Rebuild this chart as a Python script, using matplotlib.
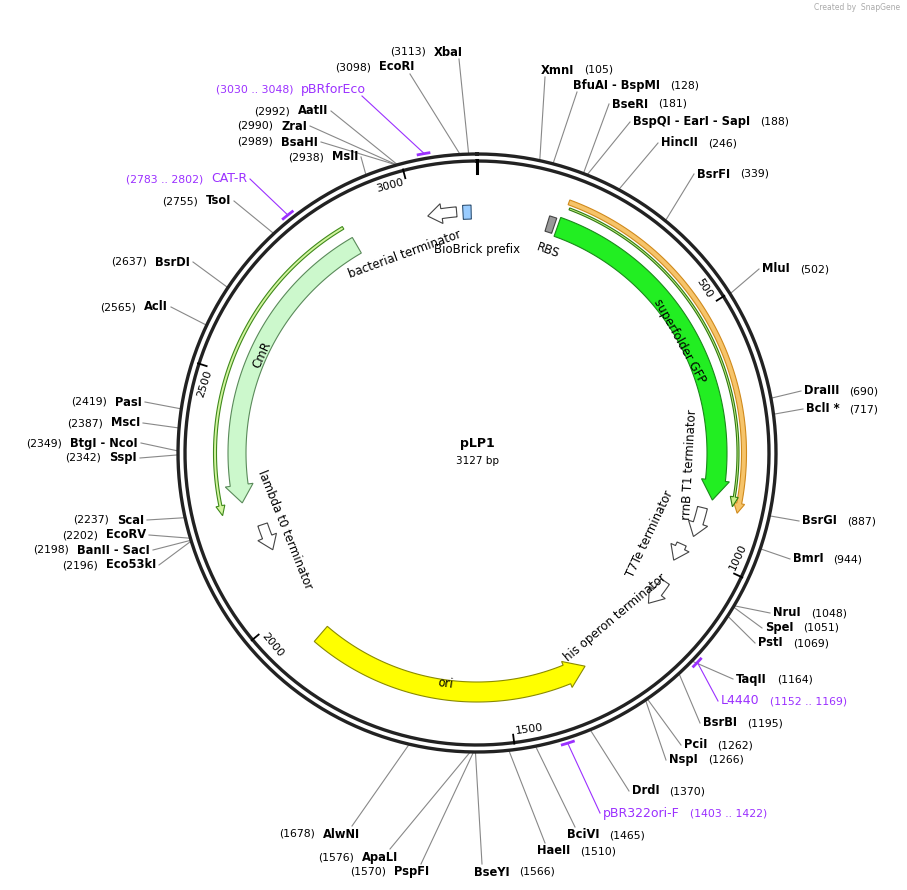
import numpy as np
import matplotlib
matplotlib.use("Agg")
import matplotlib.pyplot as plt
from matplotlib.patches import Polygon

TOTAL = 3127
NAME = "pLP1"

# enzyme sites: name, position, side, label x, label y
enz_names = ["XmnI","BfuAI - BspMI","BseRI","BspQI - EarI - SapI","HincII","BsrFI","MluI",
             "DraIII","BclI *","BsrGI","BmrI","NruI","SpeI","PstI","TaqII","BsrBI","PciI","NspI",
             "DrdI","BciVI","HaeII","BseYI",
             "PspFI","ApaLI","AlwNI","Eco53kI","BanII - SacI","EcoRV","ScaI","SspI","BtgI - NcoI",
             "MscI","PasI","AclI","BsrDI","TsoI","MslI","BsaHI","ZraI","AatII","EcoRI","XbaI"]
enz_pos = [105,128,181,188,246,339,502,690,717,887,944,1048,1051,1069,1164,1195,1262,1266,
           1370,1465,1510,1566,
           1570,1576,1678,2196,2198,2202,2237,2342,2349,2387,2419,2565,2637,2755,2938,2989,2990,2992,3098,3113]
enz_side = ["R"]*22 + ["L"]*20
enz_lx = [541,573,612,633,661,697,762,804,806,802,793,773,765,758,736,703,684,669,632,567,537,474,
          429,398,360,156,150,146,144,137,138,140,142,168,190,231,358,318,307,328,414,463]
enz_ly = [70,85,104,122,143,174,269,391,409,521,559,613,628,643,679,723,745,760,791,835,851,872,
          872,857,834,565,550,535,520,458,443,423,402,307,262,201,157,142,126,111,67,52]

# primers: name, start, end, side, label x, label y
pr_names = ["pBRforEco","CAT-R","L4440","pBR322ori-F"]
pr_start = [3030,2783,1152,1403]
pr_end = [3048,2802,1169,1422]
pr_side = ["L","L","R","R"]
pr_lx = [366,247,721,603]
pr_ly = [89,179,701,813]

cx, cy = 477, 453
R_OUT, R_IN = 299, 292

fig = plt.figure(figsize=(9.07, 8.90), dpi=100)
ax = fig.add_axes([0, 0, 1, 1])
ax.set_xlim(0, 907); ax.set_ylim(890, 0); ax.axis("off")
renderer = fig.canvas.get_renderer()

def ang(bp):
    return np.deg2rad(bp / TOTAL * 360.0)

def pt(r, bp):
    t = ang(bp)
    return cx + r*np.sin(t), cy - r*np.cos(t)

def rot_for(bp):
    d = (bp / TOTAL * 360.0) % 360
    r = -d
    if 90 < d < 270:
        r += 180
    return r

def arc_pts(r, b1, b2, n=80):
    bs = np.linspace(b1, b2, n)
    return [pt(r, b) for b in bs]

def arc_arrow(b1, b2, r, w, fc, ec, forward=True, head=14, hw=4, lw=1.0, z=3):
    hb = head / (2*np.pi*r) * TOTAL
    if forward:
        bb = max(b1, b2 - hb)
        poly = arc_pts(r + w/2, b1, bb) + [pt(r + w/2 + hw, bb), pt(r, b2), pt(r - w/2 - hw, bb)] + arc_pts(r - w/2, bb, b1)
    else:
        bb = min(b2, b1 + hb)
        poly = arc_pts(r + w/2, b2, bb) + [pt(r + w/2 + hw, bb), pt(r, b1), pt(r - w/2 - hw, bb)] + arc_pts(r - w/2, bb, b2)
    ax.add_patch(Polygon(poly, closed=True, fc=fc, ec=ec, lw=lw, zorder=z))

def arc_box(b1, b2, r, w, fc, ec, z=3):
    poly = arc_pts(r + w/2, b1, b2) + arc_pts(r - w/2, b2, b1)
    ax.add_patch(Polygon(poly, closed=True, fc=fc, ec=ec, lw=0.8, zorder=z))

# backbone ring
th = np.linspace(0, 2*np.pi, 400)
for rr in (R_OUT, R_IN):
    ax.plot(cx + rr*np.sin(th), cy - rr*np.cos(th), color="#222222", lw=2.4, zorder=2)

# ticks
for b in range(500, 3001, 500):
    x1, y1 = pt(R_IN - 8, b); x2, y2 = pt(R_IN + 1, b)
    ax.plot([x1, x2], [y1, y2], color="black", lw=1.3, zorder=3)
    tx, ty = pt(R_IN - 11, b - 30)
    ax.text(tx, ty, str(b), fontsize=8, rotation=rot_for(b), ha="center", va="center", zorder=4)
x1, y1 = pt(R_IN - 12, 0); x2, y2 = pt(R_IN + 1, 0)
ax.plot([x1, x2], [y1, y2], color="black", lw=2.2, zorder=3)

# features
arc_arrow(2225, 2860, 262, 3, "#d4f5a0", "#3f8a1c", forward=False, head=10, hw=3, lw=0.8)
arc_arrow(2241, 2866, 240, 18, "#ccf8cc", "#5a8a5a", forward=False, head=18, hw=5, lw=0.8)
arc_arrow(175, 895, 267, 5, "#f6c46a", "#d08a1c", forward=True, head=10, hw=3, lw=0.8)
arc_arrow(180, 885, 261, 2, "#c9f08a", "#2f7a10", forward=True, head=10, hw=3, lw=0.8)
arc_arrow(170, 880, 240, 20, "#22ee22", "#1a8a1a", forward=True, head=20, hw=4, lw=0.8)
arc_box(148, 163, 240, 16, "#999999", "#444444")
arc_arrow(1330, 1918, 239, 20, "#ffff00", "#8a8a00", forward=False, head=20, hw=4, lw=0.8)
arc_box(3098, 3115, 241, 14, "#99ccff", "#335577")
for (b1, b2, fw, rr) in [(900, 965, True, 232), (990, 1030, True, 224), (1080, 1140, True, 228),
                        (2125, 2185, False, 226), (3025, 3085, False, 242)]:
    arc_arrow(b1, b2, rr, 10, "white", "#444444", forward=fw, head=14, hw=5, lw=0.8)

# feature labels
flabels = [("superfolder GFP", 530, 232), ("RBS", 168, 215), ("rrnB T1 terminator", 809, 213),
           ("T7Te terminator", 1000, 191), ("his operon terminator", 1216, 215), ("ori", 1630, 233),
           ("lambda t0 terminator", 2155, 207), ("CmR", 2558, 236), ("bacterial terminator", 2953, 211),
           ("BioBrick prefix", 3127, 203)]
for s, b, rr in flabels:
    x, y = pt(rr, b)
    ax.text(x, y, s, fontsize=8.5, rotation=rot_for(b), ha="center", va="center", zorder=5)

ax.text(cx, 444, NAME, fontsize=9, fontweight="bold", ha="center", va="center")
ax.text(cx, 461, f"{TOTAL} bp", fontsize=7.5, ha="center", va="center")

def label(name, pos, side, lx, ly, color="black", bold=True, fs=8.3):
    fw = "bold" if bold else "normal"
    if side == "R":
        t = ax.text(lx, ly, name, fontsize=fs, fontweight=fw, color=color, ha="left", va="center")
        w = t.get_window_extent(renderer).width
        ax.text(lx + w + 10, ly, pos, fontsize=7.8, color=color, ha="left", va="center")
    else:
        t = ax.text(lx, ly, name, fontsize=fs, fontweight=fw, color=color, ha="right", va="center")
        w = t.get_window_extent(renderer).width
        ax.text(lx - w - 8, ly, pos, fontsize=7.8, color=color, ha="right", va="center")

def endpoint(side, lx, ly):
    if ly > 820:
        return (lx + 8, ly - 8) if side == "R" else (lx - 8, ly - 8)
    if ly < 100:
        return (lx + 4, ly + 7) if side == "R" else (lx - 4, ly + 7)
    return (lx - 3, ly) if side == "R" else (lx + 3, ly)

for n, p, s, lx, ly in zip(enz_names, enz_pos, enz_side, enz_lx, enz_ly):
    x0, y0 = pt(R_OUT + 1, p)
    ex, ey = endpoint(s, lx, ly)
    ax.plot([x0, ex], [y0, ey], color="#888888", lw=0.8, zorder=1)
    label(n, f"({p})", s, lx, ly)

for n, a, b, s, lx, ly in zip(pr_names, pr_start, pr_end, pr_side, pr_lx, pr_ly):
    mid = (a + b) / 2
    half = max((b - a) / 2, 6)
    pts = arc_pts(R_OUT + 5, mid - half, mid + half, 20)
    ax.plot([q[0] for q in pts], [q[1] for q in pts], color="#9b30ff", lw=2, zorder=3)
    x0, y0 = pt(R_OUT + 6, mid)
    ex, ey = endpoint(s, lx, ly)
    ax.plot([x0, ex], [y0, ey], color="#9b30ff", lw=0.8, zorder=1)
    label(n, f"({a} .. {b})", s, lx, ly, color="#9b30ff", bold=False, fs=9)

ax.text(900, 8, "Created by  SnapGene", fontsize=5.5, color="#aaaaaa", ha="right", va="center")

fig.savefig("out.png", dpi=100)
